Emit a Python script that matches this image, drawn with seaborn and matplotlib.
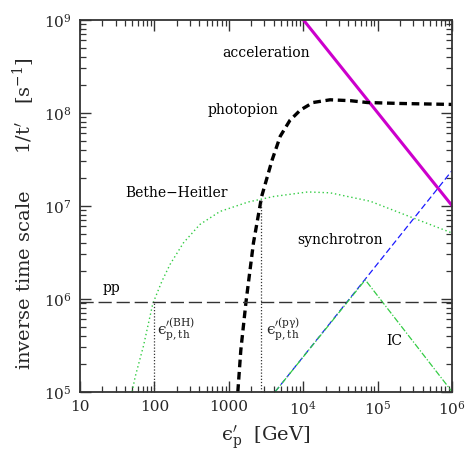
import numpy as np
import pandas as pd
import matplotlib
matplotlib.use("Agg")
import matplotlib.pyplot as plt
import seaborn as sns
from matplotlib.ticker import FixedLocator, FixedFormatter, LogLocator, NullFormatter

# proton energy [GeV] and inverse time scales [1/s]
accel_e = [1e4, 1e6]
accel_rate = [1e9, 1e7]

photopion_e = [1318, 1445, 1698, 2138, 2754, 3802, 4898, 6607, 9120, 13490,
               22910, 42660, 72440, 2e5, 1e6]
photopion_rate = [1.0e5, 2.8e5, 9.3e5, 4.0e6, 1.26e7, 3.1e7, 5.6e7, 8.3e7, 1.07e8,
                  1.29e8, 1.38e8, 1.35e8, 1.29e8, 1.26e8, 1.23e8]

bh_e = [50, 55, 71, 95, 126, 162, 245, 407, 759, 1820, 4000, 11500, 22900,
        79400, 275000, 1e6]
bh_rate = [1.0e5, 1.45e5, 3.1e5, 8.9e5, 1.55e6, 2.35e6, 4.0e6, 6.3e6, 8.7e6,
           1.1e7, 1.26e7, 1.41e7, 1.38e7, 1.12e7, 7.6e6, 5.1e6]

sync_e = [4170, 1e6]
sync_rate = [1e5, 2.4e7]

ic_e = [4170, 68000, 1e6]
ic_rate = [1e5, 1.6e6, 1e5]

pp_e = [10, 1e6]
pp_rate = [9.3e5, 9.3e5]

th_bh = 100
th_pg = 2700
th_pg_top = 1.15e7

xticks = [10, 100, 1000, 1e4, 1e5, 1e6]
xticklabels = ["10", "100", "1000", "$10^4$", "$10^5$", "$10^6$"]
yticks = [1e5, 1e6, 1e7, 1e8, 1e9]
yticklabels = ["$10^5$", "$10^6$", "$10^7$", "$10^8$", "$10^9$"]

sns.set_style("ticks")
plt.rcParams["font.family"] = ["DejaVu Serif"]
plt.rcParams["mathtext.fontset"] = "dejavuserif"

fig = plt.figure(figsize=(4.71, 4.71), dpi=100)
ax = fig.add_axes([0.170, 0.168, 0.790, 0.790])
ax.set_xscale("log")
ax.set_yscale("log")

green = "#33cc44"

def curve(x, y, **kw):
    sns.lineplot(x=x, y=y, ax=ax, sort=False, estimator=None, **kw)

curve(accel_e, accel_rate, color="#cc00cc", lw=2.2)
curve(photopion_e, photopion_rate, color="black", lw=2.4, linestyle=(0, (2.3, 1.4)))
curve(bh_e, bh_rate, color=green, lw=1.0, linestyle=(0, (1, 2)))
curve(sync_e, sync_rate, color="#1a1aff", lw=0.9, linestyle=(0, (5, 2.5)))
curve(ic_e, ic_rate, color=green, lw=0.9, linestyle=(0, (5, 1.5, 1, 1.5)))
curve(pp_e, pp_rate, color="#333333", lw=1.0, linestyle=(0, (9.5, 3.5)))
curve([th_bh, th_bh], [1e5, pp_rate[0]], color="#333333", lw=0.9, linestyle=(0, (1, 1.5)))
curve([th_pg, th_pg], [1e5, th_pg_top], color="#333333", lw=0.9, linestyle=(0, (1, 1.5)))

ax.set_xlim(10, 1e6)
ax.set_ylim(1e5, 1e9)

ax.xaxis.set_major_locator(FixedLocator(xticks))
ax.xaxis.set_major_formatter(FixedFormatter(xticklabels))
ax.yaxis.set_major_locator(FixedLocator(yticks))
ax.yaxis.set_major_formatter(FixedFormatter(yticklabels))
ax.xaxis.set_minor_locator(LogLocator(base=10, subs=np.arange(2, 10), numticks=20))
ax.yaxis.set_minor_locator(LogLocator(base=10, subs=np.arange(2, 10), numticks=20))
ax.xaxis.set_minor_formatter(NullFormatter())
ax.yaxis.set_minor_formatter(NullFormatter())
ax.tick_params(which="both", direction="in", top=True, right=True,
               color="#333333", labelsize=11, pad=6)
ax.tick_params(which="major", length=8, width=1.0)
ax.tick_params(which="minor", length=4.5, width=0.9)
for s in ax.spines.values():
    s.set_linewidth(1.3)
    s.set_color("#333333")

eps = "\\mathrm{\u03f5}"
ax.set_xlabel("$" + eps + r"^{\prime}_{\rm p}$  [GeV]", fontsize=14, labelpad=4)
ax.set_ylabel(r"inverse time scale      1/t$^{\prime}$   [s$^{-1}$]", fontsize=14)
ax.yaxis.set_label_coords(-0.115, 0.48)

ts = dict(fontsize=10, va="center", ha="left", color="black")
ax.text(813, 4.4e8, "acceleration", **ts)
ax.text(513, 1.07e8, "photopion", **ts)
ax.text(40, 1.38e7, "Bethe\u2212Heitler", **ts)
ax.text(8300, 4.3e6, "synchrotron", **ts)
ax.text(20, 1.3e6, "pp", **ts)
ax.text(1.29e5, 3.5e5, "IC", **ts)
ax.text(107, 4.6e5, "$" + eps + r"^{\prime(\rm BH)}_{\rm p,th}$", fontsize=11, va="center", ha="left")
ax.text(3150, 4.6e5, "$" + eps + r"^{\prime(\rm p\gamma)}_{\rm p,th}$", fontsize=11, va="center", ha="left")

fig.savefig("out.png", dpi=100)
